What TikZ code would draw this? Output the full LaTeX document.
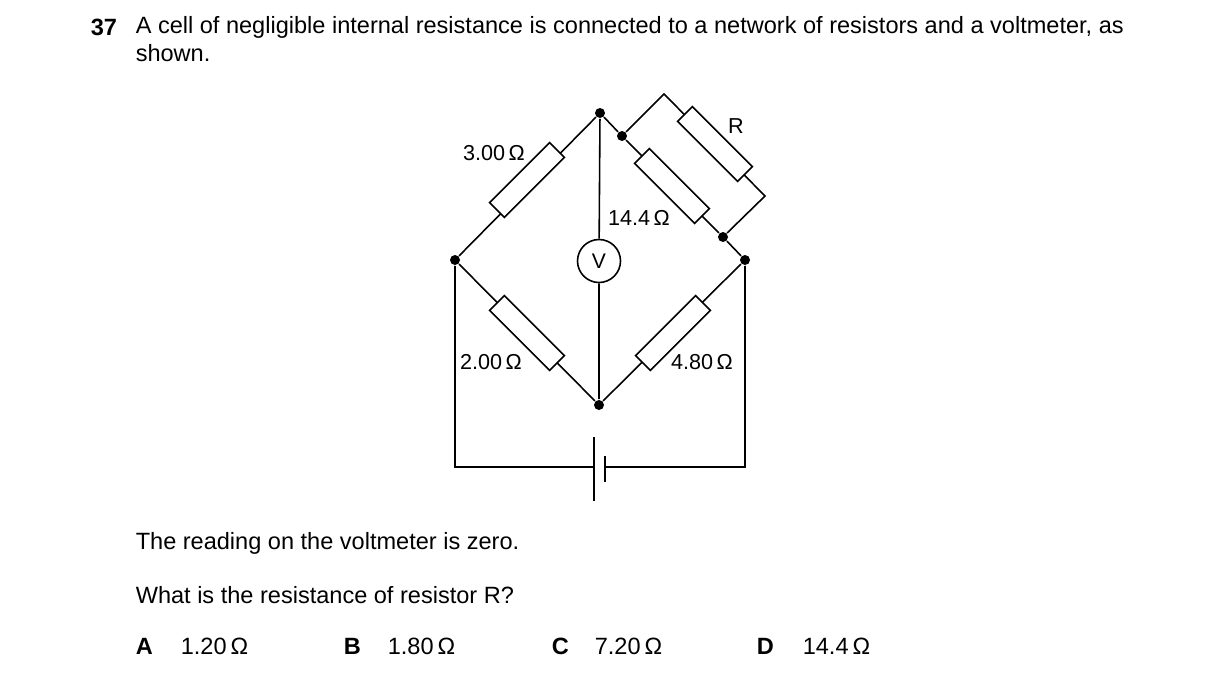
\documentclass[tikz,border=0pt]{standalone}
\usepackage{fontspec}
\setmainfont{Liberation Sans}
\usepackage{tikz}
\tikzset{
  res/.style={draw, fill=white, rectangle, minimum width=1.7cm, minimum height=0.42cm, inner sep=0pt},
  dot/.style={circle, fill=black, inner sep=0pt, minimum size=0.2cm},
  lbl/.style={inner sep=0pt, font=\fontsize{12.3}{15}\selectfont},
  txt/.style={inner sep=0pt, anchor=west, font=\fontsize{13.4}{16}\selectfont}
}
\begin{document}
\begin{tikzpicture}[x=0.02cm, y=-0.02cm, line width=0.9pt]
			\useasboundingbox (0,0) rectangle (1216,679);
			\node	(T) at (600,113) [dot] {};
			\node	(L) at (455,260) [dot] {};
			\node	(B) at (599,405) [dot] {};
			\node	(E) at (745,260) [dot] {};
			\node	(j1) at (622,136) [dot] {};
			\node	(j2) at (723,237) [dot] {};
			\coordinate (r1) at (664,94);
			\coordinate (r2) at (765,196);
			\coordinate (bl) at (455,467);
			\coordinate (br) at (745,467);
			\coordinate (cl) at (594,467);
			\coordinate (cr) at (605,467);
			\node	(V) at (599,261) [draw, circle, fill=white, minimum size=0.86cm, inner sep=0pt, font=\fontsize{12}{14}\selectfont] {V};
			\draw (T) -- (L) -- (B) -- (E) -- (j2) -- (j1) -- (T)
			(j1) -- (r1) -- (r2) -- (j2)
			(T) -- (V) -- (B)
			(L) -- (bl) -- (cl)
			(cr) -- (br) -- (E);
			\draw[line width=1.1pt] (594,437) -- (594,501) (605,456) -- (605,482);
			\node	(ra) at (527,180) [res, rotate=45] {};
			\node	(rb) at (527,333) [res, rotate=-45] {};
			\node	(rc) at (672,186) [res, rotate=-45] {};
			\node	(rd) at (715,144) [res, rotate=-45] {};
			\node	(re) at (673,333) [res, rotate=45] {};
			\node	(la) at (494,153) [lbl] {3.00\,Ω};
			\node	(lb) at (491,362) [lbl] {2.00\,Ω};
			\node	(lc) at (639,218) [lbl] {14.4\,Ω};
			\node	(ld) at (736,126) [lbl] {R};
			\node	(le) at (702,362) [lbl] {4.80\,Ω};
			\node	(q) at (90,27) [txt] {\textbf{37}};
			\node	(q1) at (135,27) [txt] {A cell of negligible internal resistance is connected to a network of resistors and a voltmeter, as};
			\node	(q2) at (135,53) [txt] {shown.};
			\node	(s1) at (135,543) [txt] {The reading on the voltmeter is zero.};
			\node	(s2) at (135,595) [txt] {What is the resistance of resistor R?};
			\node	(oA) at (135,646) [txt] {\textbf{A}};
			\node	(vA) at (180,646) [txt] {1.20\,Ω};
			\node	(oB) at (343,646) [txt] {\textbf{B}};
			\node	(vB) at (387,646) [txt] {1.80\,Ω};
			\node	(oC) at (551,646) [txt] {\textbf{C}};
			\node	(vC) at (594,646) [txt] {7.20\,Ω};
			\node	(oD) at (756,646) [txt] {\textbf{D}};
			\node	(vD) at (802,646) [txt] {14.4\,Ω};
\end{tikzpicture}
\end{document}
